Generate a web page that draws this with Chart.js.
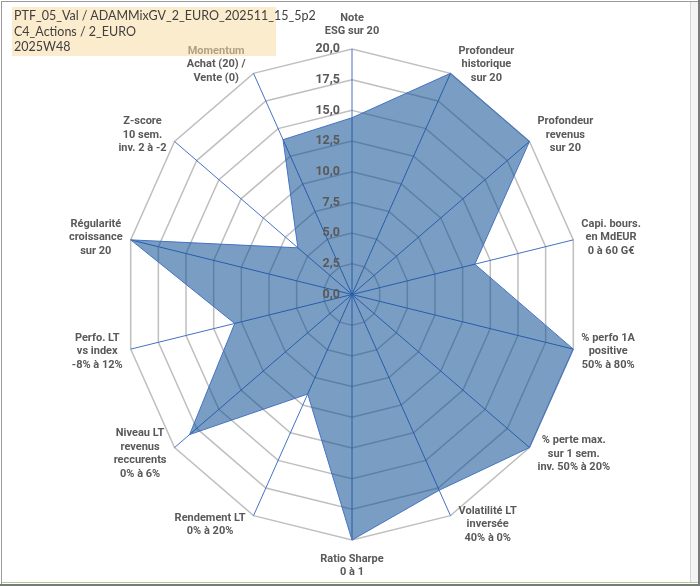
<!DOCTYPE html>
<html>
<head>
<meta charset="utf-8">
<script src="https://cdn.jsdelivr.net/npm/chart.js@4.4.1/dist/chart.umd.min.js"></script>
<style>
html, body { margin: 0; padding: 0; background: #fff; }
#cadre { position: relative; width: 700px; height: 586px; overflow: hidden; background: #fff; }
#graphe { position: absolute; left: 0; top: 0; }
#titre {
  position: absolute; left: 12px; top: 7px; width: 262px; height: 47px;
  padding: 1px 0 1px 2px;
  background: rgba(250, 220, 165, 0.55);
  font: 12.5px Lato, sans-serif; line-height: 15.5px; color: #404040;
  white-space: nowrap;
}
.trait { position: absolute; }
</style>
</head>
<body>
<div id="cadre">
  <canvas id="graphe" width="700" height="586"></canvas>
  <div id="titre">PTF_05_Val / ADAMMixGV_2_EURO_202511_15_5p2<br>C4_Actions / 2_EURO<br>2025W48</div>
  <div class="trait" style="left:1px;top:1px;width:1px;height:584px;background:#9a9a9a"></div>
  <div class="trait" style="left:1px;top:1px;width:697px;height:1px;background:#9a9a9a"></div>
  <div class="trait" style="left:690px;top:2px;width:1px;height:580px;background:#d4d4d4"></div>
  <div class="trait" style="left:691px;top:2px;width:7px;height:580px;background:#f4f4f4"></div>
  <div class="trait" style="left:698px;top:0;width:2px;height:586px;background:#7a7a7a"></div>
  <div class="trait" style="left:2px;top:582px;width:696px;height:1px;background:#a9d08e"></div>
  <div class="trait" style="left:0;top:584px;width:700px;height:2px;background:#7a7a7a"></div>
</div>
<script>
// axes du radar (une ligne de texte par element)
var criteres = [
  ['Note', 'ESG sur 20'],
  ['Profondeur', 'historique', 'sur 20'],
  ['Profondeur', 'revenus', 'sur 20'],
  ['Capi. bours.', 'en MdEUR', '0 à 60 G€'],
  ['% perfo 1A', 'positive', '50% à 80%'],
  ['% perte max.', 'sur 1 sem.', 'inv. 50% à 20%'],
  ['Volatilité LT', 'inversée', '40% à 0%'],
  ['Ratio Sharpe', '0 à 1'],
  ['Rendement LT', '0% à 20%'],
  ['Niveau LT', 'revenus', 'reccurents', '0% à 6%'],
  ['Perfo. LT', 'vs index', '-8% à 12%'],
  ['Régularité', 'croissance', 'sur 20'],
  ['Z-score', '10 sem.', 'inv. 2 à -2'],
  ['Momentum', 'Achat (20) /', 'Vente (0)']
];

// notes sur 20
var notes = [14.4, 20, 20, 11.1, 20, 20, 17.7, 20, 9.0, 18.3, 10.6, 20, 6.1, 14.0];

// graduations de l'axe
var graduations = ['0,0', '2,5', '5,0', '7,5', '10,0', '12,5', '15,0', '17,5', '20,0'];

// geometrie du radar (le graphique d'origine est un peu ecrase en largeur)
var CENTRE_X = 352;
var CENTRE_Y = 294.5;
var RAYON = 245.5;
var APLATISSEMENT = 227 / 245.5;
var HAUTEUR_LIGNE = 13.5;

var Radial = Chart.RadialLinearScale || Chart.registry.getScale('radialLinear');

// on impose le centre et le rayon au lieu du calcul automatique
Radial.prototype.setCenterPoint = function () {
    this.xCenter = CENTRE_X;
    this.yCenter = CENTRE_Y;
    this.drawingArea = RAYON;
};

// ellipse : on resserre les positions horizontales
var positionOrigine = Radial.prototype.getPointPosition;
Radial.prototype.getPointPosition = function (index, distance, angleSup) {
    var p = positionOrigine.call(this, index, distance, angleSup);
    p.x = this.xCenter + (p.x - this.xCenter) * APLATISSEMENT;
    return p;
};

// textes des axes centres comme dans Excel + graduations a gauche de l'axe
var etiquettes = {
    id: 'etiquettes',
    afterDraw: function (chart) {
        var r = chart.scales.r;
        var ctx = chart.ctx;
        ctx.save();
        ctx.fillStyle = '#595959';
        ctx.textAlign = 'center';
        ctx.textBaseline = 'middle';
        ctx.font = 'bold 11px Roboto';
        for (var i = 0; i < criteres.length; i++) {
            var lignes = criteres[i];
            var p = r.getPointPosition(i, r.drawingArea);
            var a = r.getIndexAngle(i);
            var s = Math.sin(a), c = Math.cos(a);
            var w = 0;
            lignes.forEach(function (l) { w = Math.max(w, ctx.measureText(l).width); });
            var h = lignes.length * HAUTEUR_LIGNE;
            var cx, cy;
            if (Math.abs(s) < 0.01) {
                cx = p.x;
                cy = c > 0 ? p.y - 11 - h / 2 : p.y + 12 + h / 2;
            } else {
                cx = s > 0 ? p.x + 8 + w / 2 : p.x - 8 - w / 2;
                cy = p.y - 10 * c;
            }
            for (var k = 0; k < lignes.length; k++) {
                ctx.fillText(lignes[k], cx, cy - h / 2 + HAUTEUR_LIGNE * (k + 0.5));
            }
        }
        ctx.font = 'bold 12.5px Roboto';
        ctx.textAlign = 'right';
        r.ticks.forEach(function (t, j) {
            var d = r.getDistanceFromCenterForValue(t.value);
            ctx.fillText(graduations[j], r.xCenter - 12, r.yCenter - d);
        });
        ctx.restore();
    }
};

var ctx = document.getElementById('graphe').getContext('2d');
var radar = new Chart(ctx, {
    type: 'radar',
    data: {
        labels: criteres,
        datasets: [{
            label: 'PTF_05_Val',
            data: notes,
            backgroundColor: 'rgba(13, 77, 148, 0.55)',
            borderColor: '#4472C4',
            borderWidth: 1,
            pointRadius: 0,
            tension: 0,
            fill: true
        }]
    },
    options: {
        responsive: false,
        animation: false,
        plugins: {
            legend: { display: false },
            tooltip: { enabled: false }
        },
        scales: {
            r: {
                min: 0,
                max: 20,
                ticks: { stepSize: 2.5, display: false },
                grid: { color: '#BFBFBF', lineWidth: 1.5, circular: false },
                angleLines: { color: '#4472C4', lineWidth: 1 },
                pointLabels: { display: false }
            }
        }
    },
    plugins: [etiquettes]
});
</script>
</body>
</html>
